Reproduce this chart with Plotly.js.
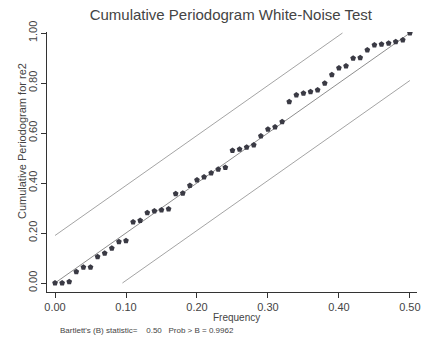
<!DOCTYPE html>
<html>
<head>
<meta charset="utf-8">
<script src="https://cdn.plot.ly/plotly-3.0.1.min.js"></script>
<style>html,body{margin:0;padding:0;background:#fff;}#chart{width:429px;height:344px;}</style>
</head>
<body>
<div id="chart"></div>
<script>
// Frequencies (0.00 .. 0.50 in steps of 0.01)
const frequency = [0.00,0.01,0.02,0.03,0.04,0.05,0.06,0.07,0.08,0.09,
  0.10,0.11,0.12,0.13,0.14,0.15,0.16,0.17,0.18,0.19,
  0.20,0.21,0.22,0.23,0.24,0.25,0.26,0.27,0.28,0.29,
  0.30,0.31,0.32,0.33,0.34,0.35,0.36,0.37,0.38,0.39,
  0.40,0.41,0.42,0.43,0.44,0.45,0.46,0.47,0.48,0.49,0.50];
// Cumulative periodogram values for re2
const cumPeriodogram = [0.000,0.000,0.005,0.045,0.063,0.063,0.105,0.119,0.139,0.165,
  0.169,0.244,0.250,0.281,0.288,0.292,0.296,0.357,0.359,0.390,
  0.412,0.424,0.440,0.455,0.462,0.530,0.535,0.543,0.552,0.588,
  0.615,0.624,0.645,0.725,0.752,0.759,0.765,0.772,0.799,0.833,
  0.860,0.868,0.899,0.901,0.932,0.952,0.955,0.959,0.965,0.972,1.000];
// Reference line and confidence bounds
const refX = [0, 0.5], refY = [0, 1];
const upperX = [0, 0.405], upperY = [0.19, 1.0];
const lowerX = [0.095, 0.5], lowerY = [0, 0.81];
const xTicks = [0, 0.1, 0.2, 0.3, 0.4, 0.5];
const yTicks = [0, 0.2, 0.4, 0.6, 0.8, 1.0];

const FONT = "'Liberation Sans Narrow', 'Arial Narrow', 'Liberation Sans', Arial, sans-serif";
const lineStyle = {color: '#9a9a9a', width: 0.9};

const traces = [
  {x: upperX, y: upperY, mode: 'lines', line: lineStyle, hoverinfo: 'skip'},
  {x: lowerX, y: lowerY, mode: 'lines', line: lineStyle, hoverinfo: 'skip'},
  {x: refX, y: refY, mode: 'lines', line: {color: '#808080', width: 0.9}, hoverinfo: 'skip'},
  {x: frequency, y: cumPeriodogram, mode: 'markers',
   marker: {symbol: 'pentagon', size: 6, color: '#3a3a44'}}
];

const layout = {
  width: 429, height: 344,
  margin: {l: 47, r: 12, t: 32, b: 52},
  paper_bgcolor: '#fff', plot_bgcolor: '#fff',
  showlegend: false,
  font: {family: FONT, size: 11, color: '#444'},
  title: {text: 'Cumulative Periodogram White-Noise Test',
          font: {family: FONT, size: 15, color: '#444'},
          x: 0.538, xanchor: 'center', y: 0.958, yanchor: 'middle'},
  xaxis: {range: [-0.0113, 0.51], tickvals: xTicks, tickformat: '.2f',
          showgrid: false, zeroline: false, showline: true, linecolor: '#333', linewidth: 1,
          ticks: 'outside', ticklen: 5, tickcolor: '#333',
          tickfont: {family: FONT, size: 11, color: '#444'}},
  yaxis: {range: [-0.036, 1.004], tickvals: yTicks, tickformat: '.2f', tickangle: -90,
          showgrid: false, zeroline: false, showline: true, linecolor: '#333', linewidth: 1,
          ticks: 'outside', ticklen: 5, tickcolor: '#333',
          tickfont: {family: FONT, size: 11, color: '#444'}},
  annotations: [
    {text: 'Frequency', xref: 'paper', yref: 'paper', x: 0.513, y: -0.099,
     xanchor: 'center', yanchor: 'middle', showarrow: false,
     font: {family: FONT, size: 10, color: '#444'}},
    {text: 'Cumulative Periodogram for re2', xref: 'paper', yref: 'paper', x: -0.068, y: 0.58,
     textangle: -90, xanchor: 'center', yanchor: 'middle', showarrow: false,
     font: {family: FONT, size: 11, color: '#444'}},
    {text: "Bartlett's (B) statistic=&nbsp;&nbsp;&nbsp;&nbsp;0.50&nbsp;&nbsp;&nbsp;Prob > B = 0.9962",
     xref: 'paper', yref: 'paper', x: 0.03, y: -0.148,
     xanchor: 'left', yanchor: 'middle', showarrow: false,
     font: {family: FONT, size: 8, color: '#444'}}
  ]
};

Plotly.newPlot('chart', traces, layout, {staticPlot: true, displayModeBar: false});
</script>
</body>
</html>
